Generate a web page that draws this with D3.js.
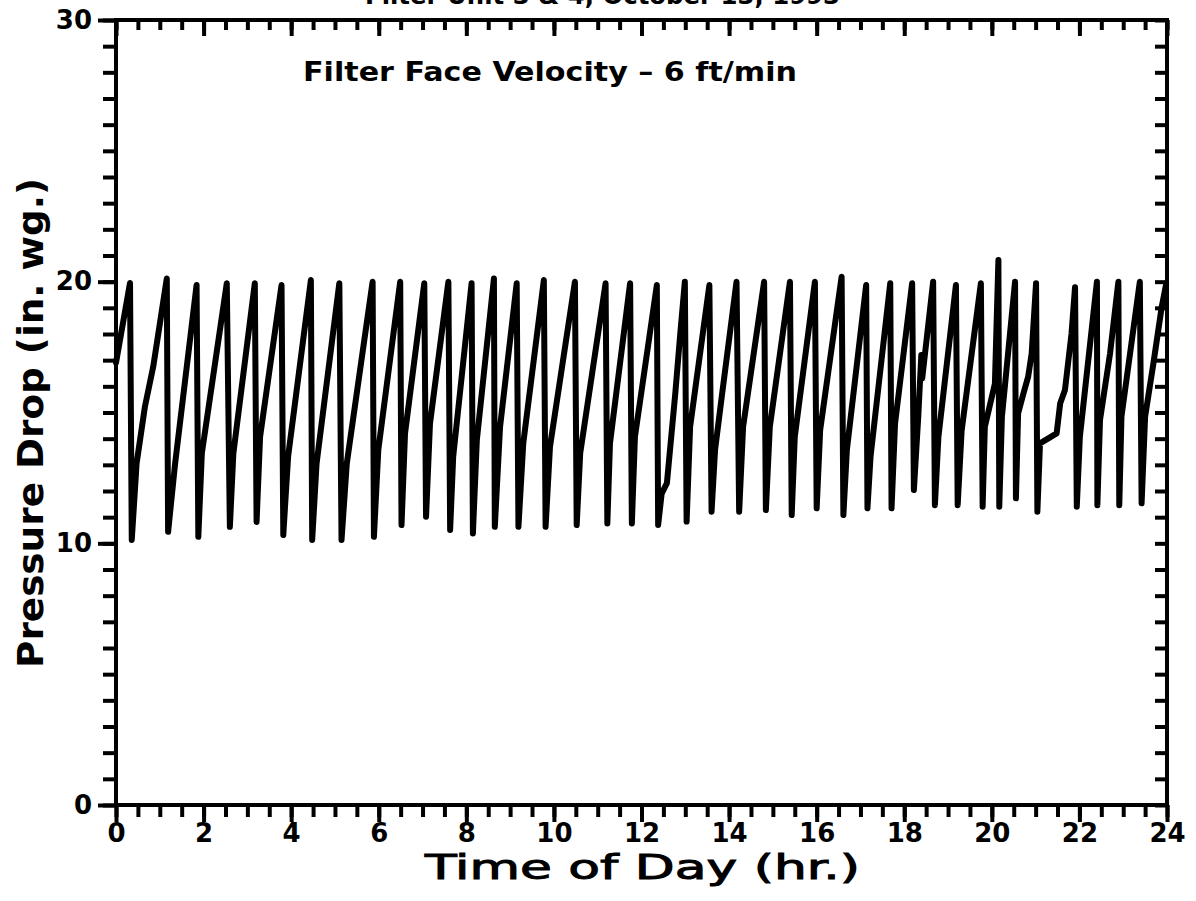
<!DOCTYPE html>
<html>
<head>
<meta charset="utf-8">
<script src="https://cdn.jsdelivr.net/npm/d3@7"></script>
<style>
    html, body { margin: 0; padding: 0; background: #fff; }
    svg { display: block; }
    text { font-family: "DejaVu Sans", sans-serif; font-weight: bold; fill: #000; }
</style>
</head>
<body>
<div id="chart-container"></div>
<script>
// time of day (hr.) and pressure drop (in. wg.)
const timeOfDay = [
    0.00, 0.32, 0.36, 0.47, 0.66, 0.85, 1.16, 1.19, 1.35, 1.84, 1.88, 1.96,
    2.53, 2.60, 2.68, 3.17, 3.21, 3.29, 3.78, 3.82, 3.93, 4.45, 4.48, 4.58,
    5.10, 5.15, 5.27, 5.86, 5.89, 5.99, 6.49, 6.52, 6.60, 7.04, 7.08, 7.17,
    7.59, 7.63, 7.70, 8.12, 8.15, 8.24, 8.63, 8.65, 8.77, 9.15, 9.19, 9.30,
    9.77, 9.81, 9.91, 10.48, 10.52, 10.60, 11.18, 11.22, 11.28, 11.74, 11.78, 11.85,
    12.35, 12.38, 12.46, 12.58, 12.77, 12.88, 12.99, 13.03, 13.11,
    13.55, 13.60, 13.68, 13.84, 14.17, 14.23, 14.32, 14.80, 14.84, 14.93,
    15.39, 15.43, 15.50, 15.96, 16.00, 16.08, 16.57, 16.61, 16.69, 17.13, 17.16, 17.23,
    17.68, 17.71, 17.79, 18.18, 18.22, 18.32, 18.39, 18.41, 18.66, 18.70, 18.78,
    19.18, 19.22, 19.31, 19.75, 19.79, 19.84, 20.07, 20.15, 20.17, 20.23,
    20.53, 20.55, 20.60, 20.72, 20.83, 20.91, 21.01, 21.04, 21.10, 21.48, 21.56, 21.67, 21.82,
    21.90, 21.94, 22.01, 22.40, 22.41, 22.47, 22.70, 22.89, 22.91, 22.96,
    23.38, 23.42, 23.50, 23.69, 23.88, 23.98
];
const pressureDrop = [
    16.90, 19.95, 10.13, 13.05, 15.22, 16.75, 20.12, 10.44, 13.05, 19.87, 10.25, 13.44,
    19.94, 10.63, 13.44, 19.94, 10.82, 14.07, 19.87, 10.32, 13.31, 20.06, 10.13, 13.05,
    19.94, 10.13, 13.05, 20.00, 10.25, 13.57, 20.00, 10.70, 14.20, 19.94, 11.02, 14.58,
    20.00, 10.51, 13.31, 19.94, 10.38, 13.95, 20.12, 10.63, 14.45, 19.94, 10.63, 13.82,
    20.06, 10.63, 13.69, 20.00, 10.70, 13.44, 19.94, 10.76, 13.82, 19.94, 10.76, 14.07,
    19.87, 10.70, 11.90, 12.30, 15.70, 17.90, 20.00, 10.83, 14.45,
    19.87, 11.21, 13.57, 15.70, 20.00, 11.21, 14.45, 20.00, 11.27, 14.45,
    20.00, 11.08, 14.07, 20.00, 11.34, 14.33, 20.19, 11.08, 13.57, 19.87, 11.34, 13.31,
    19.94, 11.34, 14.58, 19.94, 12.04, 14.84, 17.20, 16.30, 20.00, 11.46, 14.07,
    19.87, 11.46, 14.30, 19.94, 11.40, 14.45, 16.10, 20.83, 11.40, 14.84,
    20.00, 11.72, 14.96, 15.72, 16.37, 17.26, 19.94, 11.21, 13.82, 14.20, 15.34, 15.86, 18.02,
    19.79, 11.40, 14.07, 20.00, 11.46, 14.71, 17.26, 20.00, 11.46, 14.84,
    20.00, 11.53, 14.84, 16.88, 19.04, 19.90
];
const xMajorTicks = [0, 2, 4, 6, 8, 10, 12, 14, 16, 18, 20, 22, 24];
const yMajorTicks = [0, 10, 20, 30];

const width = 1196;
const height = 901;
const margin = ({top: 20, right: 29, bottom: 96, left: 116});

const svg = d3.select("#chart-container")
    .append("svg")
    .attr("width", width)
    .attr("height", height);

const x = d3.scaleLinear()
    .domain([0, 24])
    .range([margin.left, width - margin.right]);

const y = d3.scaleLinear()
    .domain([0, 30])
    .range([height - margin.bottom, margin.top]);

const xMinor = d3.range(0, 24.01, 0.5);
const yMinor = d3.range(0, 30.01, 1);

function styleAxis(g) {
    g.select(".domain").remove();
    g.selectAll(".tick line").attr("stroke", "#000").attr("stroke-width", 4);
    g.selectAll(".tick text").style("font-size", "26px");
}

// bottom axis (ticks hang below)
svg.append("g")
    .attr("transform", `translate(0,${y(0)})`)
    .call(d3.axisBottom(x).tickValues(xMinor).tickSize(12).tickFormat(""))
    .call(styleAxis);
svg.append("g")
    .attr("transform", `translate(0,${y(0)})`)
    .call(d3.axisBottom(x).tickValues(xMajorTicks).tickSize(17).tickPadding(2).tickFormat(d3.format("d")))
    .call(styleAxis);

// top axis (ticks hang into the plot)
svg.append("g")
    .attr("transform", `translate(0,${y(30)})`)
    .call(d3.axisBottom(x).tickValues(xMinor).tickSize(10).tickFormat(""))
    .call(styleAxis);
svg.append("g")
    .attr("transform", `translate(0,${y(30)})`)
    .call(d3.axisBottom(x).tickValues(xMajorTicks).tickSize(16).tickFormat(""))
    .call(styleAxis);

// left axis
svg.append("g")
    .attr("transform", `translate(${x(0)},0)`)
    .call(d3.axisLeft(y).tickValues(yMinor).tickSize(13).tickFormat(""))
    .call(styleAxis);
svg.append("g")
    .attr("transform", `translate(${x(0)},0)`)
    .call(d3.axisLeft(y).tickValues(yMajorTicks).tickSize(18).tickPadding(6).tickFormat(d3.format("d")))
    .call(styleAxis);

// right axis (ticks point into the plot)
svg.append("g")
    .attr("transform", `translate(${x(24)},0)`)
    .call(d3.axisLeft(y).tickValues(yMinor).tickSize(12).tickFormat(""))
    .call(styleAxis);

// frame
svg.append("rect")
    .attr("x", x(0))
    .attr("y", y(30))
    .attr("width", x(24) - x(0))
    .attr("height", y(0) - y(30))
    .attr("fill", "none")
    .attr("stroke", "#000")
    .attr("stroke-width", 4);

// data line
const data = timeOfDay.map((t, i) => ({t, p: pressureDrop[i]}));
const line = d3.line()
    .x(d => x(d.t))
    .y(d => y(d.p));

svg.append("path")
    .datum(data)
    .attr("fill", "none")
    .attr("stroke", "#000")
    .attr("stroke-width", 6)
    .attr("stroke-linejoin", "round")
    .attr("stroke-linecap", "round")
    .attr("d", line);

// title, cut off by the top of the page as in the scan
svg.append("text")
    .attr("x", 365)
    .attr("y", 4)
    .attr("textLength", 475)
    .attr("lengthAdjust", "spacingAndGlyphs")
    .style("font-size", "24px")
    .text("Filter Unit 3 & 4, October 13, 1993");

svg.append("text")
    .attr("x", 303)
    .attr("y", 81)
    .attr("textLength", 494)
    .attr("lengthAdjust", "spacingAndGlyphs")
    .style("font-size", "27px")
    .text("Filter Face Velocity \u2013 6 ft/min");

svg.append("text")
    .attr("x", 425)
    .attr("y", 879)
    .attr("textLength", 435)
    .attr("lengthAdjust", "spacingAndGlyphs")
    .style("font-size", "34px")
    .style("font-weight", "normal")
    .style("stroke", "#000")
    .style("stroke-width", 1)
    .text("Time  of  Day  (hr.)");

svg.append("text")
    .attr("transform", "translate(43,668) rotate(-90)")
    .attr("textLength", 490)
    .attr("lengthAdjust", "spacingAndGlyphs")
    .style("font-size", "36px")
    .text("Pressure  Drop  (in.  wg.)");
</script>
</body>
</html>
